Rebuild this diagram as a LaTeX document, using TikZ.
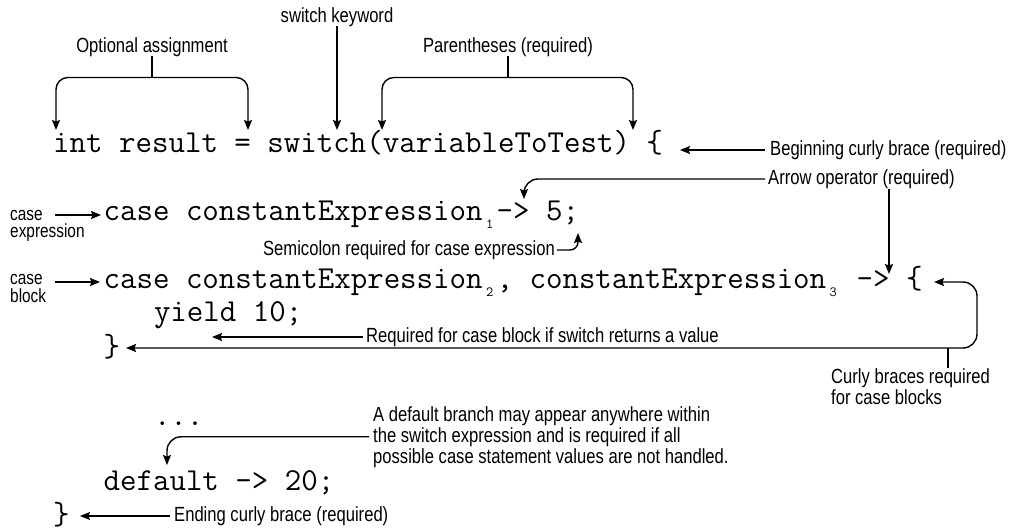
\documentclass[tikz,border=0pt]{standalone}
\usepackage{fontspec}
\usetikzlibrary{arrows.meta}
\newfontfamily\lblfont{Liberation Sans}[FakeStretch=0.81]
\newcommand\subs[1]{\makebox[14pt][c]{\raisebox{-8pt}{\fontsize{14}{14}\selectfont #1}}}
\tikzset{
  lbl/.style={font=\lblfont\fontsize{20.5}{21}\selectfont, inner sep=0pt},
  sml/.style={font=\lblfont\fontsize{19}{19}\selectfont, inner sep=0pt, anchor=base west},
  code/.style={font=\ttfamily\fontsize{32}{34}\selectfont, inner sep=0pt, anchor=base west},
  arr/.style={-{Stealth[length=10pt,width=8pt,inset=1.5pt]}, line width=1.4pt},
  ln/.style={line width=1.4pt},
}
\begin{document}
\begin{tikzpicture}[x=1pt,y=-1pt]
\useasboundingbox (0,0) rectangle (1013,531);
% code lines
\node[code] (l1) at (53,152) {int result = switch(variableToTest) \{};
\node[code] (l2) at (103.4,220) {case constantExpression\subs{1}-> 5;};
\node[code] (l3) at (103.4,288) {case constantExpression\subs{2}, constantExpression\subs{3} -> \{};
\node[code] (l4) at (153.8,321) {yield 10;};
\node[code] (l5) at (103.4,356) {\}};
\node[code] (l6) at (153.8,425) {...};
\node[code] (l7) at (103.4,490) {default -> 20;};
\node[code] (l8) at (53,524) {\}};
% labels
\node[lbl, anchor=base] (sk) at (337,22) {switch keyword};
\node[lbl, anchor=base] (oa) at (152,52) {Optional assignment};
\node[lbl, anchor=base] (pr) at (508,52) {Parentheses (required)};
\node[lbl, anchor=west] (bcb) at (770,150) {Beginning curly brace (required)};
\node[lbl, anchor=west] (ao) at (768,179) {Arrow operator (required)};
\node[sml] (ce1) at (10,220) {case};
\node[sml] (ce2) at (10,237) {expression};
\node[lbl, anchor=east] (sc) at (555,250) {Semicolon required for case expression};
\node[sml] (cb1) at (10,284) {case};
\node[sml] (cb2) at (10,302) {block};
\node[lbl, anchor=west] (rq) at (366,337) {Required for case block if switch returns a value};
\node[lbl, anchor=north west, align=left] (cbr) at (831,368) {Curly braces required\\for case blocks};
\node[lbl, anchor=north west, align=left] (db) at (373,406) {A default branch may appear anywhere within\\the switch expression and is required if all\\possible case statement values are not handled.};
\node[lbl, anchor=west] (ecb) at (174,516) {Ending curly brace (required)};
% coordinates
\coordinate (oaL) at (56,130);
\coordinate (oaR) at (248,130);
\coordinate (skT) at (337,130);
\coordinate (prL) at (382,130);
\coordinate (prR) at (633,130);
\coordinate (bcbT) at (680,150);
\coordinate (aoT) at (524,199);
\coordinate (aoT2) at (889,274);
\coordinate (ceT) at (101,215);
\coordinate (scT) at (578,233);
\coordinate (cbT) at (100,282);
\coordinate (rqT) at (212,337);
\coordinate (cbrA) at (934,282);
\coordinate (cbrB) at (126,348);
\coordinate (cbrC) at (977,282);
\coordinate (cbrD) at (977,348);
\coordinate (cbrJ) at (948,348);
\coordinate (dbT) at (167,465);
\coordinate (ecbT) at (80,516);
% connectors
\draw[ln] (oa.south) -- ++(0,21) coordinate (oaJ);
\draw[arr, rounded corners=12pt] (oaJ) -| (oaL);
\draw[arr, rounded corners=12pt] (oaJ) -| (oaR);
\draw[arr] (sk.south) -- (skT);
\draw[ln] (pr.south) -- ++(0,21) coordinate (prJ);
\draw[arr, rounded corners=12pt] (prJ) -| (prL);
\draw[arr, rounded corners=12pt] (prJ) -| (prR);
\draw[arr] ([xshift=-5pt]bcb.west) -- (bcbT);
\draw[arr, rounded corners=14pt] ([xshift=-3pt]ao.west) -| (aoT);
\draw[arr] (ao.south -| aoT2) -- (aoT2);
\draw[arr] ([xshift=12pt]ce1.east |- ceT) -- (ceT);
\draw[arr, rounded corners=8pt] ([xshift=2pt]sc.east) -| (scT);
\draw[arr] ([xshift=12pt]cb1.east |- cbT) -- (cbT);
\draw[arr] ([xshift=-3pt]rq.west) -- (rqT);
\draw[{Stealth[length=10pt,width=8pt,inset=1.5pt]}-{Stealth[length=10pt,width=8pt,inset=1.5pt]}, line width=1.4pt, rounded corners=14pt] (cbrA) -- (cbrC) -- (cbrD) -- (cbrB);
\draw[ln] (cbr.north -| cbrJ) -- (cbrJ);
\draw[arr, rounded corners=14pt] ([xshift=-4pt]db.west) -| (dbT);
\draw[arr] ([xshift=-4pt]ecb.west) -- (ecbT);
\end{tikzpicture}
\end{document}
